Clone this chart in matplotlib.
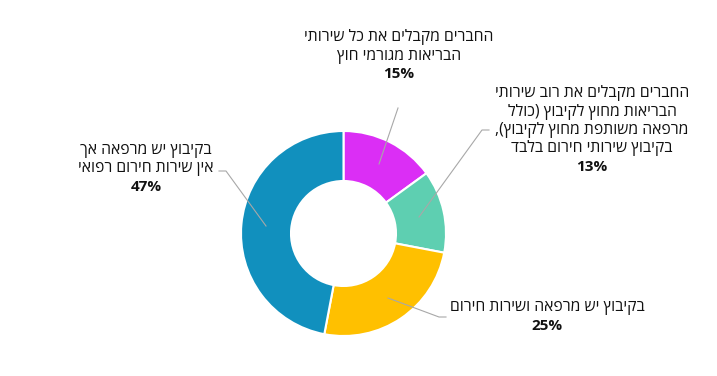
import matplotlib
matplotlib.use("Agg")
from matplotlib import pyplot as plt

# values (percent), clockwise from the top
labels = [
    ["החברים מקבלים את כל שירותי", "הבריאות מגורמי חוץ"],
    ["החברים מקבלים את רוב שירותי", "הבריאות מחוץ לקיבוץ (כולל",
     "מרפאה משותפת מחוץ לקיבוץ),", "בקיבוץ שירותי חירום בלבד"],
    ["בקיבוץ יש מרפאה ושירות חירום"],
    ["בקיבוץ יש מרפאה אך", "אין שירות חירום רפואי"],
]
values = [15, 13, 25, 47]
colors = ["#DB2EF5", "#5ECFB1", "#FFC000", "#1190BE"]

W, H = 717, 376
fam = ["Open Sans", "DejaVu Sans"]


def vis(s):
    # matplotlib has no bidi, so flip the line by hand
    swap = {"(": ")", ")": "("}
    return "".join(swap.get(c, c) for c in reversed(s))


fig = plt.figure(figsize=(W / 100, H / 100), dpi=100)
ax = fig.add_axes([0, 0, 1, 1])
ax.set_xlim(0, W)
ax.set_ylim(0, H)
ax.set_aspect("equal")
ax.axis("off")

cx, cy = 343.5, H - 233.5
ax.pie(values, colors=colors, startangle=90, counterclock=False,
       center=(cx, cy), radius=102.5,
       wedgeprops=dict(width=50, edgecolor="white", linewidth=1.5))
ax.set_xlim(0, W)
ax.set_ylim(0, H)

# label layout in pixels from the top left: text center x, first line y, leader points
layout = [
    (399, 37, [(379, 164), (398, 108)]),
    (592, 93, [(419, 217), (482, 130), (489, 130)]),
    (547, 307, [(388, 298), (439, 317), (446, 317)]),
    (146, 150, [(266, 226), (226, 171), (219, 171)]),
]
step = 18.5
for lines, v, (x, y0, pts) in zip(labels, values, layout):
    for i, ln in enumerate(lines):
        ax.text(x, H - (y0 + i * step), vis(ln), ha="center", va="center",
                fontsize=11.3, family=fam, color="#111111")
    ax.text(x, H - (y0 + len(lines) * step), f"{v}%", ha="center", va="center",
            fontsize=11, family=fam, fontweight="bold", color="#111111")
    xs = [p[0] for p in pts]
    ys = [H - p[1] for p in pts]
    ax.plot(xs, ys, color="#A8A8A8", linewidth=0.8)

fig.savefig("out.png", dpi=100)
